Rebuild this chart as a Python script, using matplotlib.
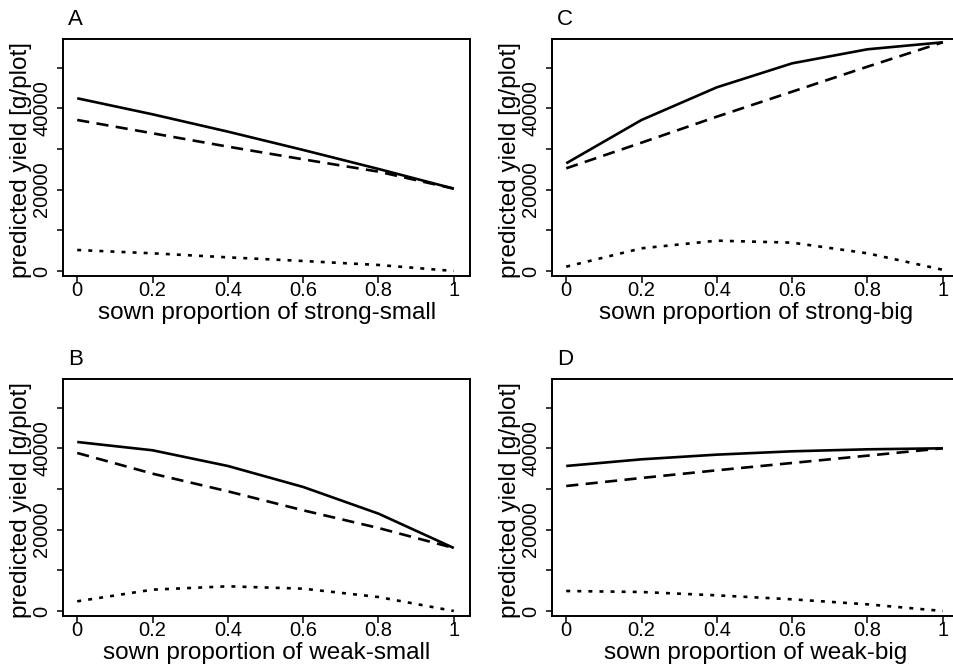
import matplotlib
matplotlib.use('Agg')
import matplotlib.pyplot as plt

plt.rcParams['font.family'] = ['Liberation Sans', 'DejaVu Sans']

# sown proportion (x) for every panel
proportion = [0, 0.2, 0.4, 0.6, 0.8, 1]

# panel A: strong-small
a_total = [42470, 38530, 34270, 29760, 25090, 20250]
a_expected = [37140, 33860, 30580, 27460, 24430, 20250]
a_minor = [5160, 4350, 3360, 2460, 1480, 0]

# panel B: weak-small
b_total = [41560, 39520, 35660, 30500, 23940, 15490]
b_expected = [38860, 33770, 29430, 24760, 20410, 15490]
b_minor = [2380, 5250, 6070, 5490, 3440, 0]

# panel C: strong-big
c_total = [26480, 37140, 45170, 51070, 54520, 56240]
c_expected = [25250, 31560, 37950, 44100, 50250, 56240]
c_minor = [1060, 5580, 7460, 6970, 4350, 300]

# panel D: weak-big
d_total = [35660, 37300, 38450, 39270, 39760, 40010]
d_expected = [30740, 32710, 34600, 36400, 38200, 40010]
d_minor = [4920, 4670, 3850, 2870, 1640, 0]

x_ticks = [0, 0.2, 0.4, 0.6, 0.8, 1]
x_ticklabels = ['0', '0.2', '0.4', '0.6', '0.8', '1']
y_ticks = [0, 10000, 20000, 30000, 40000, 50000]
y_ticklabels = ['0', '', '20000', '', '40000', '']

panels = [
    ('A', 'strong-small', a_total, a_expected, a_minor),
    ('B', 'weak-small', b_total, b_expected, b_minor),
    ('C', 'strong-big', c_total, c_expected, c_minor),
    ('D', 'weak-big', d_total, d_expected, d_minor),
]

W, H = 954, 664
fig = plt.figure(figsize=(W / 100, H / 100), dpi=100)

# axes boxes in pixels: left, top, width, height
boxes = {
    'A': (63.3, 39, 406.7, 237),
    'B': (63.3, 379, 406.7, 237),
    'C': (552.3, 39, 406.7, 237),
    'D': (552.3, 379, 406.7, 237),
}

for letter, name, total, expected, minor in panels:
    left, top, w, h = boxes[letter]
    ax = fig.add_axes([left / W, 1 - (top + h) / H, w / W, h / H])
    ax.plot(proportion, total, color='black', lw=1.9, solid_capstyle='butt')
    ax.plot(proportion, expected, color='black', lw=1.9,
            linestyle=(0, (4.6, 2.8)), dash_capstyle='butt')
    ax.plot(proportion, minor, color='black', lw=1.9,
            linestyle=(0, (1.5, 2.7)), dash_capstyle='butt')

    ax.set_xlim(-0.037, 1.043)
    ax.set_ylim(-1230, 57050)
    ax.set_xticks(x_ticks)
    ax.set_xticklabels(x_ticklabels)
    ax.set_yticks(y_ticks)
    ax.set_yticklabels(y_ticklabels, rotation=90, va='center')
    ax.tick_params(axis='both', length=6.5 * 0.72, width=1.1, labelsize=14.5,
                   color='black')
    ax.tick_params(axis='x', pad=-1)
    ax.tick_params(axis='y', pad=4)
    for sp in ax.spines.values():
        sp.set_linewidth(1.4)

    ax.set_xlabel('sown proportion of ' + name, fontsize=17.5)
    ax.xaxis.set_label_coords(0.5, -0.108)
    ax.xaxis.label.set_va('top')
    ax.set_ylabel('predicted yield [g/plot]', fontsize=17.5)
    ax.yaxis.set_label_coords(-0.078, 0.49)

    ax.text(0.012, 1.058, letter, transform=ax.transAxes, fontsize=16,
            ha='left', va='baseline')

fig.savefig('out.png', dpi=100)
